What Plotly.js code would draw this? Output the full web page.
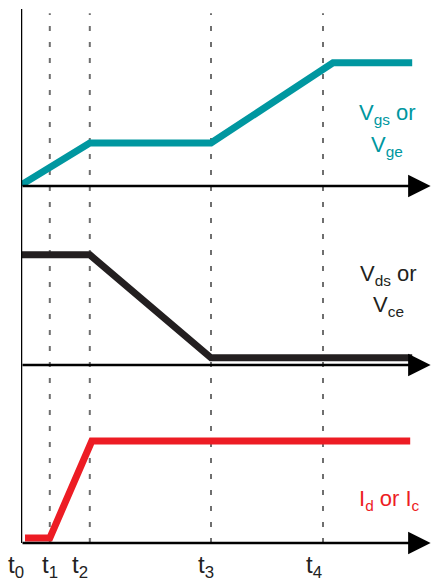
<!DOCTYPE html>
<html><head>
<script src="https://cdn.plot.ly/plotly-3.0.1.min.js"></script>
<style>body{margin:0;background:#fff}</style>
</head><body>
<div id="c" style="width:432px;height:582px"></div>
<script>
// time markers (arbitrary time units)
const tickTimes = [0, 0.72, 1.72, 4.75, 7.55];
const tickLabels = ['t<sub>0</sub>', 't<sub>1</sub>', 't<sub>2</sub>', 't<sub>3</sub>', 't<sub>4</sub>'];
// gate voltage Vgs / Vge
const vgsT = [0, 1.72, 4.75, 7.8, 9.78];
const vgsV = [0.005, 0.244, 0.244, 0.70, 0.70];
// drain voltage Vds / Vce
const vdsT = [0, 1.72, 4.75, 9.78];
const vdsV = [0.615, 0.615, 0.04, 0.04];
// current Id / Ic
const idT = [0.1, 0.72, 1.77, 9.73];
const idV = [0.028, 0.028, 0.573, 0.573];

const FONT = 'Liberation Sans Narrow, Arial Narrow, Liberation Sans, Arial, sans-serif';
const TEAL = '#0097A0', RED = '#ED1C24', DARK = '#231F20';
const labelShift = [-5, 0, -10, -5, -9];

const traces = [
  {x: vgsT, y: vgsV, yaxis: 'y3', mode: 'lines', line: {color: TEAL, width: 7}, hoverinfo: 'skip'},
  {x: vdsT, y: vdsV, yaxis: 'y2', mode: 'lines', line: {color: DARK, width: 7}, hoverinfo: 'skip'},
  {x: idT, y: idV, yaxis: 'y', mode: 'lines', line: {color: RED, width: 7}, hoverinfo: 'skip'}
];

const shapes = tickTimes.slice(1).map(t => ({
  type: 'line', xref: 'x', yref: 'paper', x0: t, x1: t, y0: 0, y1: 0.994,
  line: {color: '#6f6f6f', width: 2, dash: '5px,11px'}, layer: 'below'
}));
shapes.push({type: 'line', xref: 'x', yref: 'paper', x0: 0, x1: 0, y0: 0, y1: 1.002,
  line: {color: '#000', width: 2.5}});

const annotations = [];
['y', 'y2', 'y3'].forEach(ya => annotations.push({
  x: 10.24, y: 0, ax: 0, ay: 0, xref: 'x', yref: ya, axref: 'x', ayref: ya,
  text: '', showarrow: true, arrowhead: 2, arrowwidth: 2.5, arrowsize: 1.8,
  arrowcolor: '#000', standoff: 0, startstandoff: 0
}));
tickTimes.forEach((t, i) => annotations.push({
  x: t, y: 0, xref: 'x', yref: 'paper', yanchor: 'top', xanchor: 'center',
  yshift: -6, xshift: labelShift[i], text: tickLabels[i], showarrow: false,
  font: {family: FONT, size: 24, color: '#222'}
}));
const lab = (txt, x, y, ya, color) => annotations.push({
  x: x, y: y, xref: 'x', yref: ya, text: txt, showarrow: false,
  xanchor: 'center', yanchor: 'middle', font: {family: FONT, size: 22, color: color}
});
lab('V<sub>gs</sub> or', 9.15, 0.41, 'y3', TEAL);
lab('V<sub>ge</sub>', 9.15, 0.225, 'y3', TEAL);
lab('V<sub>ds</sub> or', 9.18, 0.50, 'y2', DARK);
lab('V<sub>ce</sub>', 9.18, 0.33, 'y2', DARK);
lab('I<sub>d</sub> or I<sub>c</sub>', 9.2, 0.24, 'y', RED);

const hide = {showgrid: false, zeroline: false, showline: false, showticklabels: false, ticks: '', fixedrange: true};
const layout = {
  width: 432, height: 582,
  margin: {l: 21, r: 0, t: 10, b: 39},
  paper_bgcolor: '#fff', plot_bgcolor: '#fff',
  showlegend: false,
  xaxis: Object.assign({range: [0, 10.275]}, hide),
  yaxis: Object.assign({domain: [0, 0.334], range: [0, 1]}, hide),
  yaxis2: Object.assign({domain: [0.334, 0.67], range: [0, 1]}, hide),
  yaxis3: Object.assign({domain: [0.67, 1], range: [0, 1]}, hide),
  shapes: shapes,
  annotations: annotations
};
Plotly.newPlot('c', traces, layout, {staticPlot: true});
</script>
</body></html>
